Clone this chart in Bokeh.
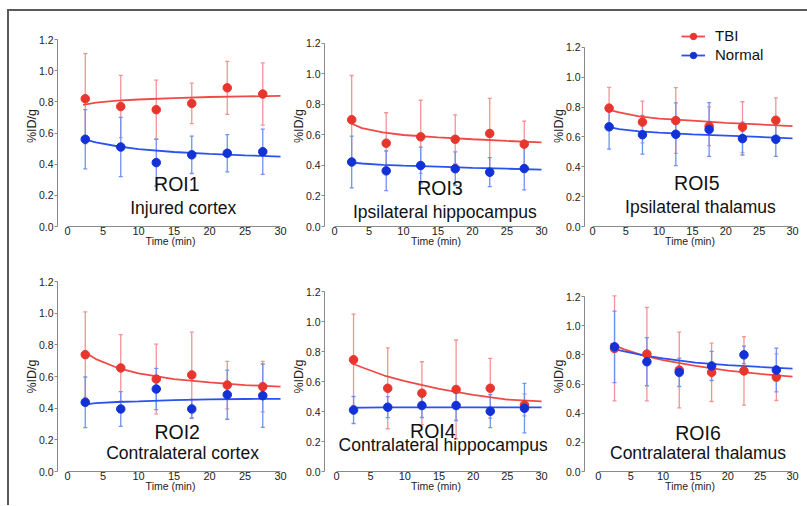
from bokeh.plotting import figure
from bokeh.models import Label, Legend, LegendItem, FixedTicker, PrintfTickFormatter, Range1d
from bokeh.layouts import row, column
from bokeh.embed import file_html
from bokeh.resources import INLINE

# ---------------- data ----------------
time = [2.5, 7.5, 12.5, 17.5, 22.5, 27.5]
fit_x = [2.2, 4, 7, 10, 15, 20, 25, 30]
fit_x6 = [1.9, 4, 7, 10, 15, 20, 25, 30]
y_ticks = [0.0, 0.2, 0.4, 0.6, 0.8, 1.0, 1.2]
x_ticks = [0, 5, 10, 15, 20, 25, 30]

roi1_tbi = [0.82, 0.77, 0.75, 0.79, 0.89, 0.85]
roi1_tbi_err = [0.29, 0.20, 0.19, 0.13, 0.17, 0.20]
roi1_nor = [0.56, 0.51, 0.41, 0.46, 0.47, 0.48]
roi1_nor_err = [0.19, 0.19, 0.15, 0.12, 0.12, 0.145]
roi1_tbi_fit = [0.78, 0.795, 0.808, 0.815, 0.824, 0.831, 0.835, 0.838]
roi1_nor_fit = [0.56, 0.54, 0.515, 0.497, 0.478, 0.466, 0.457, 0.449]

roi3_tbi = [0.70, 0.546, 0.588, 0.572, 0.61, 0.54]
roi3_tbi_err = [0.29, 0.20, 0.24, 0.16, 0.23, 0.15]
roi3_nor = [0.423, 0.365, 0.40, 0.379, 0.356, 0.38]
roi3_nor_err = [0.17, 0.13, 0.12, 0.11, 0.095, 0.14]
roi3_tbi_fit = [0.68, 0.645, 0.617, 0.60, 0.585, 0.572, 0.561, 0.551]
roi3_nor_fit = [0.42, 0.413, 0.404, 0.399, 0.392, 0.385, 0.379, 0.373]

roi5_tbi = [0.793, 0.70, 0.71, 0.672, 0.666, 0.712]
roi5_tbi_err = [0.14, 0.14, 0.22, 0.13, 0.17, 0.15]
roi5_nor = [0.668, 0.615, 0.618, 0.65, 0.589, 0.585]
roi5_nor_err = [0.15, 0.13, 0.21, 0.18, 0.11, 0.115]
roi5_tbi_fit = [0.785, 0.765, 0.738, 0.723, 0.71, 0.695, 0.684, 0.672]
roi5_nor_fit = [0.67, 0.652, 0.637, 0.629, 0.618, 0.609, 0.60, 0.591]

roi2_tbi = [0.738, 0.654, 0.584, 0.61, 0.546, 0.536]
roi2_tbi_err = [0.27, 0.21, 0.22, 0.27, 0.15, 0.16]
roi2_nor = [0.437, 0.395, 0.521, 0.395, 0.485, 0.479]
roi2_nor_err = [0.16, 0.11, 0.13, 0.06, 0.155, 0.20]
roi2_tbi_fit = [0.76, 0.71, 0.655, 0.62, 0.584, 0.563, 0.546, 0.536]
roi2_nor_fit = [0.422, 0.432, 0.439, 0.443, 0.451, 0.456, 0.458, 0.459]

roi4_tbi = [0.745, 0.555, 0.522, 0.547, 0.555, 0.444]
roi4_tbi_err = [0.305, 0.27, 0.21, 0.33, 0.20, 0.073]
roi4_nor = [0.41, 0.429, 0.44, 0.44, 0.402, 0.422]
roi4_nor_err = [0.09, 0.07, 0.08, 0.10, 0.11, 0.165]
roi4_tbi_fit = [0.722, 0.69, 0.64, 0.602, 0.551, 0.511, 0.48, 0.467]
roi4_nor_fit = [0.425, 0.426, 0.427, 0.427, 0.428, 0.428, 0.428, 0.428]

roi6_tbi = [0.844, 0.805, 0.696, 0.68, 0.69, 0.647]
roi6_tbi_err = [0.36, 0.32, 0.26, 0.20, 0.235, 0.16]
roi6_nor = [0.855, 0.753, 0.68, 0.724, 0.80, 0.696]
roi6_nor_err = [0.245, 0.165, 0.097, 0.10, 0.06, 0.15]
roi6_tbi_fit = [0.878, 0.838, 0.795, 0.764, 0.724, 0.692, 0.669, 0.651]
roi6_nor_fit = [0.844, 0.824, 0.796, 0.776, 0.746, 0.73, 0.717, 0.706]

# ---------------- style ----------------
FONT = "Liberation Sans"
RED_PT, RED_LN, RED_ERR = "#e8352d", "#f04a48", "#f29494"
BLU_PT, BLU_LN, BLU_ERR = "#1232d8", "#2a52ee", "#7092f0"
AXIS_C = "#8a8a8a"
TXT_C = "#222222"


def panel(title, subtitle, tbi, tbi_err, nor, nor_err, fx, tbi_fit, nor_fit,
          w, h, bl, br, bt, bb, x0, x1, y1, tpos, spos, legend=False):
    p = figure(width=w, height=h, x_range=Range1d(x0, x1), y_range=Range1d(0, y1),
               output_backend="svg", toolbar_location=None,
               min_border_left=bl, min_border_right=br,
               min_border_top=bt, min_border_bottom=bb)
    p.outline_line_color = None
    p.grid.visible = False
    p.background_fill_color = "white"
    p.border_fill_color = "white"

    # error bars
    for mean, err, col in ((tbi, tbi_err, RED_ERR), (nor, nor_err, BLU_ERR)):
        up = [m + e for m, e in zip(mean, err)]
        lo = [m - e for m, e in zip(mean, err)]
        p.segment(x0=time, y0=lo, x1=time, y1=up, line_color=col, line_width=1.3)
        p.scatter(x=time + time, y=up + lo, marker="dash", size=4,
                  line_color=col, line_width=1.3)

    # fitted curves
    lr = p.line(fx, tbi_fit, line_color=RED_LN, line_width=1.8)
    lb = p.line(fx, nor_fit, line_color=BLU_LN, line_width=1.8)
    # points
    sr = p.scatter(time, tbi, size=8.5, fill_color=RED_PT, line_color=RED_PT)
    sb = p.scatter(time, nor, size=8.5, fill_color=BLU_PT, line_color=BLU_PT)

    # axes
    xa = p.xaxis[0]
    xa.ticker = FixedTicker(ticks=x_ticks)
    xa.bounds = (0, 30)
    xa.axis_line_color = AXIS_C
    xa.major_tick_out = 0
    xa.major_tick_in = 0
    xa.minor_tick_out = 0
    xa.minor_tick_in = 0
    xa.major_label_text_font = FONT
    xa.major_label_text_font_size = "11px"
    xa.major_label_text_color = TXT_C
    xa.major_label_standoff = 0
    xa.axis_label = "Time (min)"
    xa.axis_label_text_font = FONT
    xa.axis_label_text_font_size = "10.5px"
    xa.axis_label_text_font_style = "normal"
    xa.axis_label_text_color = TXT_C
    xa.axis_label_standoff = -3

    ya = p.yaxis[0]
    ya.ticker = FixedTicker(ticks=y_ticks)
    ya.formatter = PrintfTickFormatter(format="%.1f")
    ya.bounds = (0, 1.2)
    ya.axis_line_color = AXIS_C
    ya.major_tick_line_color = AXIS_C
    ya.major_tick_out = 3
    ya.major_tick_in = 0
    ya.minor_tick_out = 0
    ya.minor_tick_in = 0
    ya.major_label_text_font = FONT
    ya.major_label_text_font_size = "10.5px"
    ya.major_label_text_color = TXT_C
    ya.major_label_standoff = 1
    ya.axis_label = "%ID/g"
    ya.axis_label_text_font = FONT
    ya.axis_label_text_font_size = "12.5px"
    ya.axis_label_text_font_style = "normal"
    ya.axis_label_text_color = TXT_C
    ya.axis_label_standoff = -3

    p.add_layout(Label(x=tpos[0], y=tpos[1], text=title, text_font=FONT,
                       text_font_size="19.5px", text_align="center",
                       text_baseline="middle", text_color="#111111"))
    p.add_layout(Label(x=spos[0], y=spos[1], text=subtitle, text_font=FONT,
                       text_font_size="17.5px", text_align="center",
                       text_baseline="middle", text_color="#111111"))

    if legend:
        lg = Legend(items=[LegendItem(label="TBI", renderers=[lr, sr]),
                           LegendItem(label="Normal", renderers=[lb, sb])],
                    location=(97, 163), orientation="vertical",
                    background_fill_alpha=0, border_line_color=None,
                    label_text_font=FONT, label_text_font_size="15px",
                    label_text_color="#111111",
                    glyph_width=24, glyph_height=16, label_height=16,
                    spacing=2, padding=0, margin=0, label_standoff=10)
        p.add_layout(lg, "center")
    return p


# row 1: frame y 25..226 ; row 2: frame y 281..471 (page pixels)
p1 = panel("ROI1", "Injured cortex", roi1_tbi, roi1_tbi_err, roi1_nor, roi1_nor_err,
           fit_x, roi1_tbi_fit, roi1_nor_fit,
           279, 241, 48, 5, 14, 26, -1.41, 30.42, 1.29, (15.4, 0.27), (16.3, 0.116))
p3 = panel("ROI3", "Ipsilateral hippocampus", roi3_tbi, roi3_tbi_err, roi3_nor, roi3_nor_err,
           fit_x, roi3_tbi_fit, roi3_nor_fit,
           260, 241, 35, 1, 14, 26, -1.44, 30.87, 1.318, (15.3, 0.254), (16.0, 0.094))
p5 = panel("ROI5", "Ipsilateral thalamus", roi5_tbi, roi5_tbi_err, roi5_nor, roi5_nor_err,
           fit_x, roi5_tbi_fit, roi5_nor_fit,
           251, 241, 34, 4, 14, 26, -1.19, 30.45, 1.347, (15.65, 0.293), (16.2, 0.134),
           legend=True)
p2 = panel("ROI2", "Contralateral cortex", roi2_tbi, roi2_tbi_err, roi2_nor, roi2_nor_err,
           fit_x, roi2_tbi_fit, roi2_nor_fit,
           279, 246, 48, 5, 29, 27, -1.41, 30.42, 1.2, (15.45, 0.251), (16.2, 0.114))
p4 = panel("ROI4", "Contralateral hippocampus", roi4_tbi, roi4_tbi_err, roi4_nor, roi4_nor_err,
           fit_x, roi4_tbi_fit, roi4_nor_fit,
           260, 246, 35, 1, 29, 27, -1.75, 30.87, 1.267, (14.1, 0.267), (15.6, 0.18))
p6 = panel("ROI6", "Contralateral thalamus", roi6_tbi, roi6_tbi_err, roi6_nor, roi6_nor_err,
           fit_x6, roi6_tbi_fit, roi6_nor_fit,
           251, 246, 34, 4, 29, 27, -2.14, 30.46, 1.303, (15.4, 0.266), (15.4, 0.125))

layout = column(row(p1, p3, p5), row(p2, p4, p6),
                styles={"border-top": "2px solid #5a5a5a",
                        "border-left": "2px solid #5a5a5a",
                        "margin-left": "7px", "margin-top": "9px",
                        "padding-right": "8px", "padding-bottom": "7px"})

open("out.html", "w").write(file_html(layout, INLINE))
